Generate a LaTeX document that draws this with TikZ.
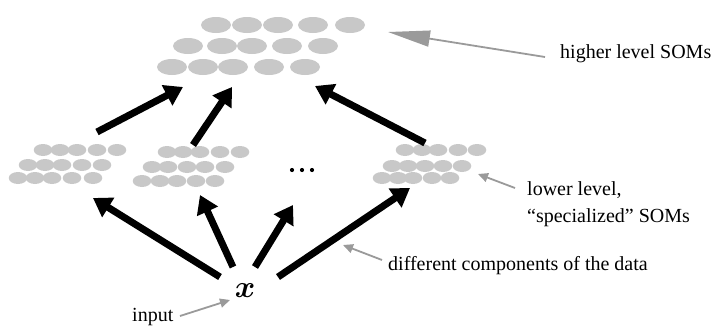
\documentclass[tikz,border=0pt]{standalone}
\usepackage{amsmath}
\usepackage{fontspec}
\setmainfont{Liberation Serif}
\usetikzlibrary{arrows.meta,shapes.geometric}
\definecolor{cellgray}{HTML}{C8C8C8}
\definecolor{pointgray}{HTML}{9A9A9A}
\tikzset{
  bigcell/.style={ellipse,fill=cellgray,inner sep=0pt,minimum width=30pt,minimum height=16pt},
  smallcell/.style={ellipse,fill=cellgray,inner sep=0pt,minimum width=18.5pt,minimum height=12pt},
  bigarrow/.style={line width=7pt,-{Triangle[length=18pt,width=22pt]},black},
  pointer/.style={line width=1.8pt,pointgray,-{Triangle[length=10pt,width=9pt]}},
  bigpointer/.style={line width=1.8pt,pointgray,-{Triangle[length=42pt,width=16pt]}},
  lbl/.style={font=\fontsize{20}{26}\selectfont,inner sep=0pt,anchor=base west},
  dot/.style={circle,fill=black,inner sep=0pt,minimum size=4.2pt}
}
\begin{document}
\begin{tikzpicture}[x=1pt,y=-1pt]
\useasboundingbox (0,0) rectangle (724,327);
% higher level SOM
\foreach \x [count=\i] in {216,247,278,313,350} \node[bigcell] (t1\i) at (\x,25) {};
\foreach \x [count=\i] in {188,222,252,287,323} \node[bigcell] (t2\i) at (\x,46) {};
\foreach \x [count=\i] in {172,203,233,269,305} \node[bigcell] (t3\i) at (\x,67) {};
% lower left SOM
\foreach \x [count=\i] in {43,60,77,97,117} \node[smallcell] (a1\i) at (\x,150) {};
\foreach \x [count=\i] in {28,45,62,82,102} \node[smallcell] (a2\i) at (\x,165) {};
\foreach \x [count=\i] in {18,35,52,72,93} \node[smallcell] (a3\i) at (\x,178) {};
% lower middle SOM
\foreach \x [count=\i] in {167,183,200,220,240} \node[smallcell] (b1\i) at (\x,152) {};
\foreach \x [count=\i] in {152,168,187,205,225} \node[smallcell] (b2\i) at (\x,167) {};
\foreach \x [count=\i] in {142,160,177,196,215} \node[smallcell] (b3\i) at (\x,181) {};
% lower right SOM
\foreach \x [count=\i] in {405,422,438,458,477} \node[smallcell] (c1\i) at (\x,150) {};
\foreach \x [count=\i] in {392,408,425,443,462} \node[smallcell] (c2\i) at (\x,166) {};
\foreach \x [count=\i] in {382,398,413,432,450} \node[smallcell] (c3\i) at (\x,178) {};
% dots
\foreach \x [count=\i] in {292,302,312} \node[dot] (dot\i) at (\x,170) {};
% input x
\node[font=\fontsize{20}{20}\selectfont,inner sep=0pt,scale=1.5] (x) at (245,291) {$\boldsymbol{x}$};
% arrow endpoints
\coordinate (u1s) at (97,132);  \coordinate (u1e) at (183,87);
\coordinate (u2s) at (193,145); \coordinate (u2e) at (232,87);
\coordinate (u3s) at (425,143); \coordinate (u3e) at (315,86);
\coordinate (d1s) at (220,277); \coordinate (d1e) at (93,198);
\coordinate (d2s) at (233,267); \coordinate (d2e) at (200,195);
\coordinate (d3s) at (255,267); \coordinate (d3e) at (293,205);
\coordinate (d4s) at (278,277); \coordinate (d4e) at (410,188);
\foreach \a in {u1,u2,u3,d1,d2,d3,d4} \draw[bigarrow] (\a s) -- (\a e);
% labels
\node[lbl] (hl) at (560,58) {higher level SOMs};
\node[lbl] (ll1) at (527,195) {lower level,};
\node[lbl] (ll2) at (527,222) {“specialized” SOMs};
\node[lbl] (dc) at (388,270) {different components of the data};
\node[lbl] (inp) at (132,321) {input};
% pointers
\coordinate (p1s) at (545,57);  \coordinate (p1e) at (388,32);
\coordinate (p2s) at (515,188); \coordinate (p2e) at (478,174);
\coordinate (p3s) at (382,260); \coordinate (p3e) at (343,245);
\coordinate (p4s) at (180,316); \coordinate (p4e) at (230,300);
\draw[bigpointer] (p1s) -- (p1e);
\draw[pointer] (p2s) -- (p2e);
\draw[pointer] (p3s) -- (p3e);
\draw[pointer] (p4s) -- (p4e);
\end{tikzpicture}
\end{document}
